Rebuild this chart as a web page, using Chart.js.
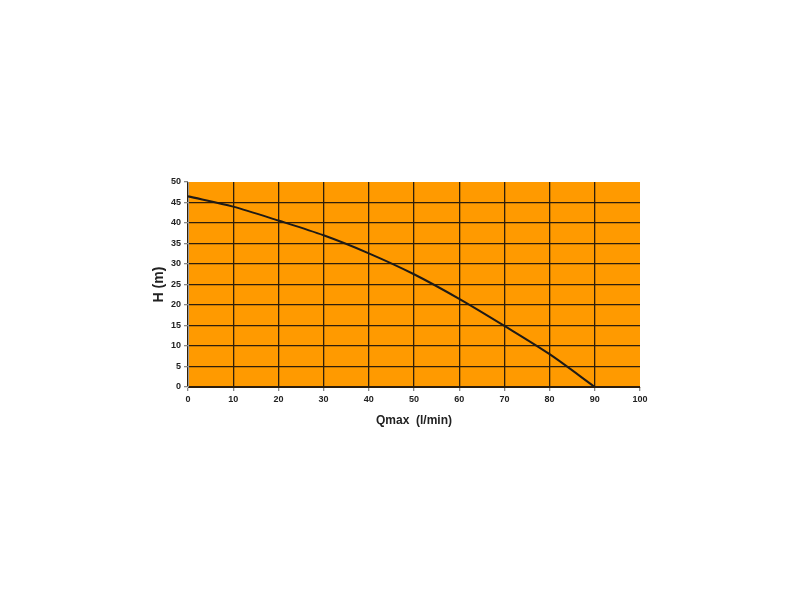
<!DOCTYPE html>
<html>
<head>
<meta charset="utf-8">
<script src="https://cdn.jsdelivr.net/npm/chart.js@4/dist/chart.umd.min.js"></script>
<style>
html,body{margin:0;padding:0;background:#fff;}
#wrap{width:800px;height:600px;}
</style>
</head>
<body>
<div id="wrap"><canvas id="c" width="800" height="600"></canvas></div>
<script>
const flow = [0, 10, 20, 30, 40, 50, 60, 70, 80, 90];
const head = [46.5, 44.0, 40.6, 37.0, 32.6, 27.5, 21.5, 14.9, 8.0, 0];
const xTitle = 'Qmax  (l/min)';
const yTitle = 'H (m)';

const bgPlugin = {
  id: 'bg',
  beforeDraw(chart) {
    const a = chart.chartArea, ctx = chart.ctx;
    ctx.save();
    ctx.fillStyle = '#FF9A00';
    ctx.fillRect(a.left, a.top, a.right - a.left, a.bottom - a.top);
    ctx.restore();
  }
};

const gridCol = '#2e1e0a';
new Chart(document.getElementById('c'), {
  type: 'scatter',
  data: {
    datasets: [{
      data: flow.map((q, i) => ({x: q, y: head[i]})),
      showLine: true,
      borderColor: '#1e1a16',
      borderWidth: 2,
      pointRadius: 0,
      tension: 0.3
    }]
  },
  options: {
    responsive: false,
    animation: false,
    layout: {padding: {left: 147, right: 160, top: 182, bottom: 168}},
    plugins: {legend: {display: false}, tooltip: {enabled: false}},
    scales: {
      x: {
        type: 'linear', min: 0, max: 100,
        afterFit(s) { s.height = 45; },
        ticks: {stepSize: 10, color: '#222', font: {family: 'Liberation Sans', size: 9, weight: 'bold'}, padding: 3},
        grid: {
          color: c => c.tick && c.tick.value === 100 ? 'rgba(0,0,0,0)' : gridCol,
          lineWidth: 1.3, tickLength: 4, tickColor: '#888'
        },
        border: {display: true, color: gridCol},
        title: {display: true, text: xTitle, color: '#222', font: {family: 'Liberation Sans', size: 12, weight: 'bold'}, padding: {top: 6}}
      },
      y: {
        min: 0, max: 50,
        afterFit(s) { s.width = 41; },
        ticks: {stepSize: 5, color: '#222', font: {family: 'Liberation Sans', size: 9, weight: 'bold'}, padding: 3},
        grid: {
          color: c => c.tick && c.tick.value === 50 ? 'rgba(0,0,0,0)' : gridCol,
          lineWidth: 1.3, tickLength: 4, tickColor: '#888'
        },
        border: {display: true, color: '#999'},
        title: {display: true, text: yTitle, color: '#222', font: {family: 'Liberation Sans', size: 14, weight: 'bold'}, padding: {bottom: 2}}
      }
    }
  },
  plugins: [bgPlugin]
});
</script>
</body>
</html>
